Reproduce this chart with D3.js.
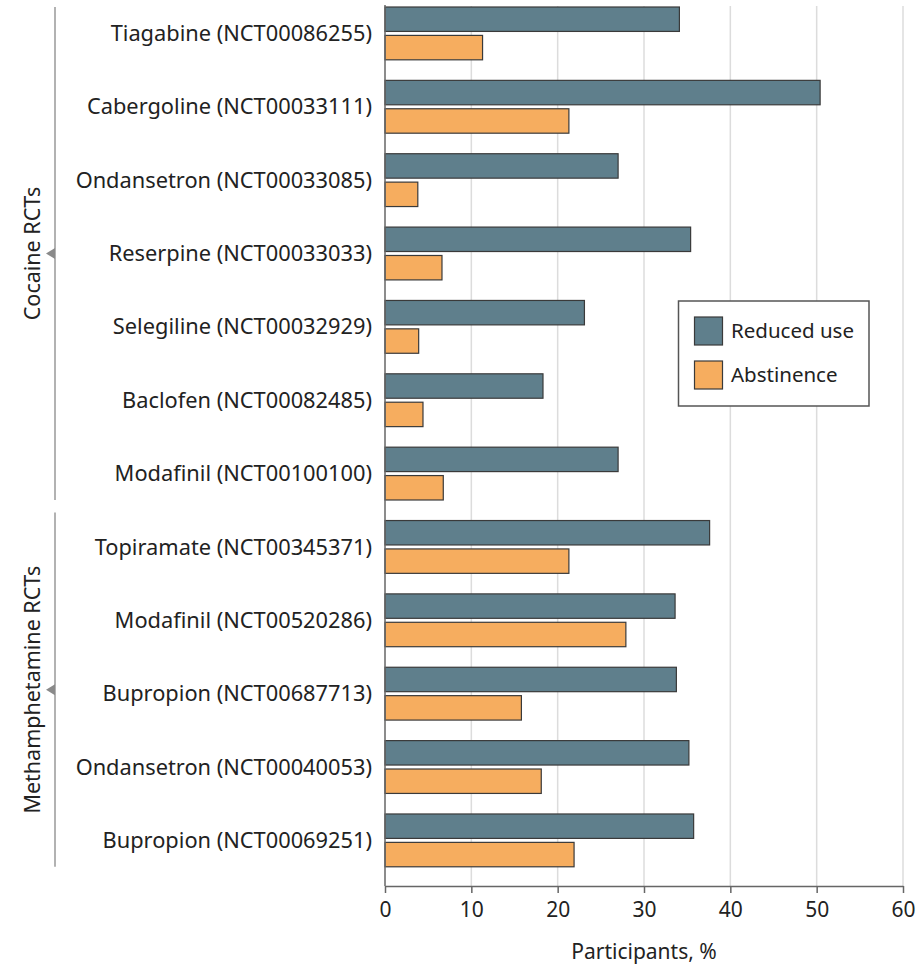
<!DOCTYPE html>
<html><head><meta charset="utf-8">
<script src="https://cdn.jsdelivr.net/npm/d3@7"></script>
<style>body{margin:0;background:#fff}</style>
</head><body>
<svg id="chart" width="919" height="966"></svg>
<script>
const trials = ["Tiagabine (NCT00086255)","Cabergoline (NCT00033111)","Ondansetron (NCT00033085)","Reserpine (NCT00033033)","Selegiline (NCT00032929)","Baclofen (NCT00082485)","Modafinil (NCT00100100)","Topiramate (NCT00345371)","Modafinil (NCT00520286)","Bupropion (NCT00687713)","Ondansetron (NCT00040053)","Bupropion (NCT00069251)"];
const reducedUse = [34.1,50.4,27.0,35.4,23.1,18.3,27.0,37.6,33.6,33.75,35.2,35.75];
const abstinence = [11.3,21.3,3.8,6.6,3.9,4.4,6.75,21.3,27.9,15.8,18.1,21.9];
const seriesNames = ["Reduced use","Abstinence"];
const groups = [{name:"Cocaine RCTs", first:0, last:6},{name:"Methamphetamine RCTs", first:7, last:11}];
const xTicks = [0,10,20,30,40,50,60];
const colors = ["#5f7f8c","#f6ad5f"];
const FONT = "'Noto Sans', sans-serif";

const svg = d3.select("#chart");
const x = d3.scaleLinear().domain([0,60]).range([385,903]);
const y = d3.scaleBand().domain(trials).range([-6.2,880]).paddingInner(0.28).paddingOuter(0.18);
const ySub = d3.scaleBand().domain(seriesNames).range([0,y.bandwidth()]).paddingInner(0.14);
const color = d3.scaleOrdinal().domain(seriesNames).range(colors);
const axisY = 886;

// gridlines
svg.append("g").selectAll("line").data(xTicks.filter(d=>d>0)).join("line")
  .attr("x1",d=>x(d)).attr("x2",d=>x(d)).attr("y1",6).attr("y2",axisY)
  .attr("stroke","#dcdcdc").attr("stroke-width",1.5);

// bars
const rows = trials.map((t,i)=>({trial:t, values:[reducedUse[i],abstinence[i]]}));
const gRows = svg.append("g").selectAll("g").data(rows).join("g")
  .attr("transform",d=>`translate(0,${y(d.trial)})`);
gRows.selectAll("rect").data(d=>seriesNames.map((s,j)=>({s, v:d.values[j]}))).join("rect")
  .attr("x",x(0)).attr("y",d=>ySub(d.s))
  .attr("width",d=>x(d.v)-x(0)).attr("height",ySub.bandwidth())
  .attr("fill",d=>color(d.s)).attr("stroke","#3a3a3a").attr("stroke-width",1.2);

// left axis line
svg.append("line").attr("x1",x(0)).attr("x2",x(0)).attr("y1",5).attr("y2",axisY)
  .attr("stroke","#666").attr("stroke-width",1.5);

// bottom axis
const xAxis = svg.append("g").attr("transform",`translate(0,${axisY})`)
  .call(d3.axisBottom(x).tickValues(xTicks).tickSize(7).tickPadding(9).tickSizeOuter(0));
xAxis.select(".domain").attr("stroke","#666").attr("stroke-width",1.5);
xAxis.selectAll(".tick line").attr("stroke","#666").attr("stroke-width",1.5);
xAxis.selectAll(".tick text").attr("font-family",FONT).attr("font-size",21).attr("fill","#222");

svg.append("text").attr("x",(x(0)+x(60))/2).attr("y",959)
  .attr("text-anchor","middle").attr("font-family",FONT).attr("font-size",21).attr("fill","#222")
  .text("Participants, %");

// category labels
svg.append("g").selectAll("text").data(trials).join("text")
  .attr("x",372).attr("y",d=>y(d)+y.bandwidth()/2).attr("dy","0.35em")
  .attr("text-anchor","end").attr("font-family",FONT).attr("font-size",21.8).attr("fill","#222")
  .text(d=>d);

// group brackets
groups.forEach(g=>{
  const y1 = y(trials[g.first]), y2 = y(trials[g.last]) + y.bandwidth();
  const top = g.first===0 ? 7 : y1 - 8;
  const mid = (top+y2)/2;
  svg.append("line").attr("x1",55).attr("x2",55).attr("y1",top).attr("y2",y2)
    .attr("stroke","#999").attr("stroke-width",1.5);
  svg.append("path").attr("d",`M46,${mid} L55,${mid-5.5} L55,${mid+5.5} Z`).attr("fill","#8a8a8a");
  svg.append("text").attr("transform",`translate(32,${mid}) rotate(-90)`)
    .attr("text-anchor","middle").attr("dy","0.35em")
    .attr("font-family",FONT).attr("font-size",21.5).attr("fill","#222").text(g.name);
});

// legend
const lg = svg.append("g");
lg.append("rect").attr("x",678.5).attr("y",301).attr("width",190.5).attr("height",105)
  .attr("fill","#fff").attr("stroke","#555").attr("stroke-width",1.5);
seriesNames.forEach((s,i)=>{
  lg.append("rect").attr("x",694.5).attr("y",317+i*44).attr("width",28).attr("height",28)
    .attr("fill",color(s)).attr("stroke","#3a3a3a").attr("stroke-width",1.2);
  lg.append("text").attr("x",731).attr("y",331+i*44).attr("dy","0.35em")
    .attr("font-family",FONT).attr("font-size",20.5).attr("fill","#222").text(s);
});
</script>
</body></html>
